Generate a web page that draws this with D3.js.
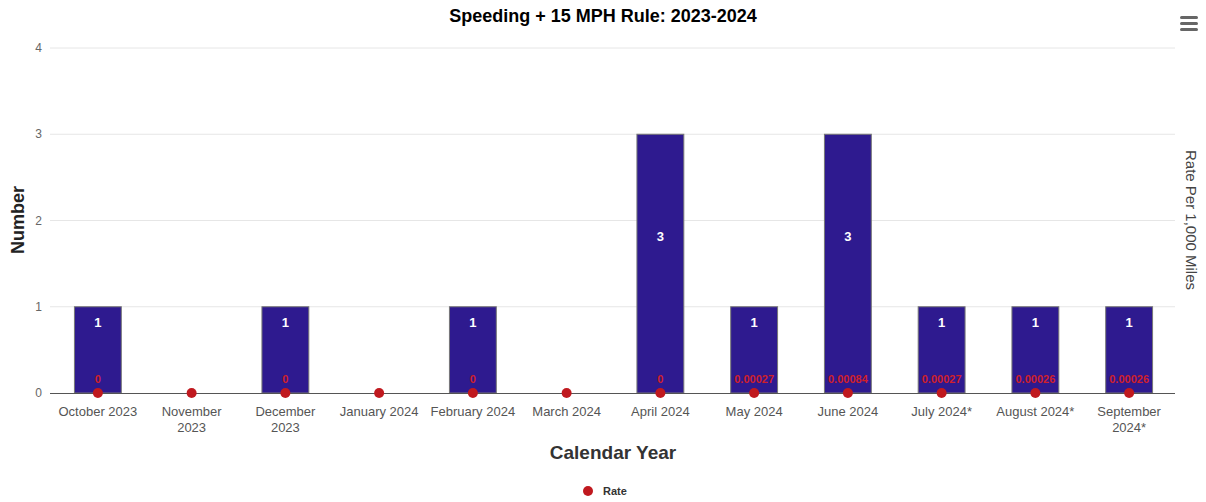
<!DOCTYPE html>
<html>
<head>
<meta charset="utf-8">
<script src="https://cdn.jsdelivr.net/npm/d3@7"></script>
<style>
  html, body { margin: 0; padding: 0; background: #fff; }
  svg { display: block; font-family: "Liberation Sans", Arial, Helvetica, sans-serif; }
</style>
</head>
<body>
<svg id="chart" width="1206" height="502"></svg>
<script>
const categories = ["October 2023", "November 2023", "December 2023", "January 2024", "February 2024", "March 2024", "April 2024", "May 2024", "June 2024", "July 2024*", "August 2024*", "September 2024*"];
const categoryLines = [["October 2023"], ["November", "2023"], ["December", "2023"], ["January 2024"], ["February 2024"], ["March 2024"], ["April 2024"], ["May 2024"], ["June 2024"], ["July 2024*"], ["August 2024*"], ["September", "2024*"]];
const numbers = [1, 0, 1, 0, 1, 0, 3, 1, 3, 1, 1, 1];
const rates = [0, 0, 0, 0, 0, 0, 0, 0.00027, 0.00084, 0.00027, 0.00026, 0.00026];
const rateLabels = ["0", null, "0", null, "0", null, "0", "0.00027", "0.00084", "0.00027", "0.00026", "0.00026"];
const yTicks = [0, 1, 2, 3, 4];

const svg = d3.select("#chart");
const mLeft = 50, mRight = 1175, mTop = 48, mBottom = 393;

const x = d3.scaleBand().domain(categories).range([mLeft + 1, mRight + 1]).paddingInner(0.5).paddingOuter(0.25);
const y = d3.scaleLinear().domain([0, 4]).range([mBottom, mTop]);
const yRate = d3.scaleLinear().domain([0, 4]).range([mBottom, mTop]);

// gridlines
svg.append("g").selectAll("line").data(yTicks.filter(d => d > 0)).join("line")
  .attr("x1", mLeft).attr("x2", mRight)
  .attr("y1", d => y(d)).attr("y2", d => y(d))
  .attr("stroke", "#e6e6e6").attr("stroke-width", 1);

// left tick labels
svg.append("g").selectAll("text").data(yTicks).join("text")
  .attr("x", 42).attr("y", d => y(d) + 4)
  .attr("text-anchor", "end").attr("font-size", 12).attr("fill", "#666")
  .text(d => d);

// bars
const data = categories.map((c, i) => ({ c, n: numbers[i], r: rates[i], rl: rateLabels[i], lines: categoryLines[i] }));
svg.append("g").selectAll("rect").data(data.filter(d => d.n > 0)).join("rect")
  .attr("x", d => x(d.c)).attr("width", x.bandwidth())
  .attr("y", d => y(d.n)).attr("height", d => y(0) - y(d.n))
  .attr("fill", "#2e1a8f").attr("stroke", "#777").attr("stroke-width", 1);

// axis line
svg.append("line").attr("x1", mLeft).attr("x2", mRight).attr("y1", mBottom + 0.5).attr("y2", mBottom + 0.5)
  .attr("stroke", "#555").attr("stroke-width", 1);

// bar labels
svg.append("g").selectAll("text").data(data.filter(d => d.n > 0)).join("text")
  .attr("x", d => x(d.c) + x.bandwidth() / 2)
  .attr("y", d => (y(d.n) + (mBottom - 56)) / 2 + 5)
  .attr("text-anchor", "middle").attr("font-size", 13).attr("font-weight", "bold")
  .attr("fill", "#fff").text(d => d.n);

// rate points
svg.append("g").selectAll("circle").data(data).join("circle")
  .attr("cx", d => x(d.c) + x.bandwidth() / 2).attr("cy", d => yRate(d.r))
  .attr("r", 5).attr("fill", "#c0191f");

// rate labels
svg.append("g").selectAll("text").data(data.filter(d => d.rl !== null)).join("text")
  .attr("x", d => x(d.c) + x.bandwidth() / 2).attr("y", d => yRate(d.r) - 10)
  .attr("text-anchor", "middle").attr("font-size", 11).attr("font-weight", "bold")
  .attr("fill", "#d0202a").text(d => d.rl);

// x labels
const xl = svg.append("g").selectAll("text").data(data).join("text")
  .attr("text-anchor", "middle").attr("font-size", 13).attr("fill", "#555")
  .attr("x", d => x(d.c) + x.bandwidth() / 2).attr("y", 416);
xl.selectAll("tspan").data(d => d.lines.map(l => ({ l, cx: x(d.c) + x.bandwidth() / 2 }))).join("tspan")
  .attr("x", d => d.cx).attr("dy", (d, i) => i === 0 ? 0 : 16).text(d => d.l);

// title
svg.append("text").attr("x", 603).attr("y", 22).attr("text-anchor", "middle")
  .attr("font-size", 18).attr("font-weight", "bold").attr("fill", "#000")
  .text("Speeding + 15 MPH Rule: 2023-2024");

// axis titles
svg.append("text").attr("transform", "translate(24,220) rotate(-90)").attr("text-anchor", "middle")
  .attr("font-size", 18).attr("font-weight", "bold").attr("fill", "#222").text("Number");
svg.append("text").attr("transform", "translate(1186,220) rotate(90)").attr("text-anchor", "middle")
  .attr("font-size", 15).attr("fill", "#444").text("Rate Per 1,000 Miles");
svg.append("text").attr("x", 613).attr("y", 459).attr("text-anchor", "middle")
  .attr("font-size", 19).attr("font-weight", "bold").attr("fill", "#333").text("Calendar Year");

// legend
svg.append("circle").attr("cx", 588).attr("cy", 491).attr("r", 5).attr("fill", "#c0191f");
svg.append("text").attr("x", 603).attr("y", 495).attr("font-size", 11).attr("font-weight", "bold")
  .attr("fill", "#333").text("Rate");

// menu icon
svg.append("g").selectAll("rect").data([0, 1, 2]).join("rect")
  .attr("x", 1180).attr("y", d => 16 + d * 6).attr("width", 18).attr("height", 3).attr("rx", 1.5)
  .attr("fill", "#666");
</script>
</body>
</html>
